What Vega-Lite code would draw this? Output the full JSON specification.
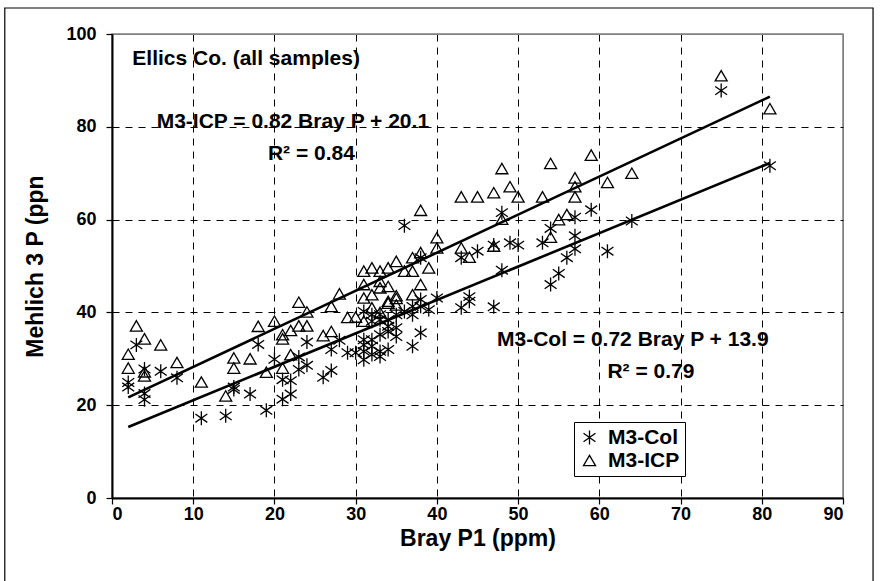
{
  "$schema": "https://vega.github.io/schema/vega-lite/v6.json",
  "width": 731,
  "height": 464,
  "autosize": {"type": "none"},
  "padding": {"left": 112, "top": 34, "right": 47, "bottom": 83},
  "background": "white",
  "config": {
    "font": "Liberation Sans",
    "view": {"stroke": "#808080", "strokeWidth": 1.5},
    "axis": {
      "labelFont": "Liberation Sans", "labelFontWeight": "bold", "labelFontSize": 18, "labelColor": "black",
      "titleFont": "Liberation Sans", "titleFontWeight": "bold", "titleFontSize": 23, "titleColor": "black",
      "domainColor": "black", "domainWidth": 2, "tickColor": "black", "tickSize": 6, "tickWidth": 1.2,
      "gridColor": "black", "gridDash": [7, 6], "gridWidth": 1, "gridOpacity": 1
    }
  },
  "datasets": {
    "pts": [
      {"s":"M3-Col","x":3,"y":33},{"s":"M3-Col","x":2,"y":24.9},{"s":"M3-Col","x":2,"y":23.9},{"s":"M3-Col","x":4,"y":27.8},{"s":"M3-Col","x":4,"y":22.5},{"s":"M3-Col","x":4,"y":21.2},{"s":"M3-Col","x":6,"y":27.3},{"s":"M3-Col","x":8,"y":25.9},{"s":"M3-Col","x":11,"y":17.2},{"s":"M3-Col","x":14,"y":17.7},{"s":"M3-Col","x":15,"y":23.9},{"s":"M3-Col","x":15,"y":23.4},{"s":"M3-Col","x":17,"y":22.4},{"s":"M3-Col","x":18,"y":33.1},{"s":"M3-Col","x":19,"y":18.9},{"s":"M3-Col","x":20,"y":29.9},{"s":"M3-Col","x":21,"y":25.5},{"s":"M3-Col","x":21,"y":21.3},{"s":"M3-Col","x":22,"y":25.3},{"s":"M3-Col","x":22,"y":22.4},{"s":"M3-Col","x":23,"y":30.4},{"s":"M3-Col","x":23,"y":27.7},{"s":"M3-Col","x":24,"y":33.6},{"s":"M3-Col","x":24,"y":28.6},{"s":"M3-Col","x":26,"y":26},{"s":"M3-Col","x":27,"y":32},{"s":"M3-Col","x":27,"y":27.5},{"s":"M3-Col","x":28,"y":34},{"s":"M3-Col","x":29,"y":31.3},
      {"s":"M3-Col","x":36,"y":58.7},{"s":"M3-Col","x":38,"y":51.8},{"s":"M3-Col","x":38,"y":42.8},{"s":"M3-Col","x":38,"y":41.3},{"s":"M3-Col","x":40,"y":43.1},{"s":"M3-Col","x":39,"y":40.6},{"s":"M3-Col","x":37,"y":41.3},{"s":"M3-Col","x":37,"y":39.5},{"s":"M3-Col","x":36,"y":40.2},{"s":"M3-Col","x":35,"y":39.5},{"s":"M3-Col","x":34,"y":38.4},{"s":"M3-Col","x":33,"y":39.5},{"s":"M3-Col","x":33,"y":38.4},{"s":"M3-Col","x":32,"y":39.5},{"s":"M3-Col","x":31,"y":40.2},{"s":"M3-Col","x":32,"y":38.1},{"s":"M3-Col","x":34,"y":37},{"s":"M3-Col","x":35,"y":36.7},{"s":"M3-Col","x":34,"y":35.9},{"s":"M3-Col","x":33,"y":35.2},{"s":"M3-Col","x":35,"y":34.8},{"s":"M3-Col","x":38,"y":35.6},{"s":"M3-Col","x":32,"y":34.1},{"s":"M3-Col","x":31,"y":34.1},{"s":"M3-Col","x":31,"y":33},{"s":"M3-Col","x":32,"y":32.7},{"s":"M3-Col","x":31,"y":31.6},{"s":"M3-Col","x":33,"y":31.6},{"s":"M3-Col","x":34,"y":32},{"s":"M3-Col","x":37,"y":32.7},{"s":"M3-Col","x":30,"y":31.3},{"s":"M3-Col","x":31,"y":29.8},{"s":"M3-Col","x":32,"y":30.9},{"s":"M3-Col","x":33,"y":30.5},
      {"s":"M3-Col","x":43,"y":51.8},{"s":"M3-Col","x":43,"y":41},{"s":"M3-Col","x":44,"y":42.4},{"s":"M3-Col","x":44,"y":43.4},{"s":"M3-Col","x":45,"y":53.2},{"s":"M3-Col","x":47,"y":54.5},{"s":"M3-Col","x":47,"y":41.2},{"s":"M3-Col","x":48,"y":61.5},{"s":"M3-Col","x":48,"y":49.1},{"s":"M3-Col","x":49,"y":55},{"s":"M3-Col","x":50,"y":54.5},{"s":"M3-Col","x":53,"y":55},{"s":"M3-Col","x":54,"y":58.1},{"s":"M3-Col","x":54,"y":46},{"s":"M3-Col","x":55,"y":48.4},{"s":"M3-Col","x":56,"y":51.8},{"s":"M3-Col","x":57,"y":53.7},{"s":"M3-Col","x":57,"y":56.5},{"s":"M3-Col","x":57,"y":60.5},{"s":"M3-Col","x":59,"y":62.1},{"s":"M3-Col","x":61,"y":53.2},{"s":"M3-Col","x":64,"y":59.7},{"s":"M3-Col","x":75,"y":87.8},{"s":"M3-Col","x":81,"y":71.6},
      {"s":"M3-ICP","x":3,"y":37.1},{"s":"M3-ICP","x":4,"y":34.3},{"s":"M3-ICP","x":6,"y":33},{"s":"M3-ICP","x":2,"y":31},{"s":"M3-ICP","x":2,"y":28},{"s":"M3-ICP","x":4,"y":26.3},{"s":"M3-ICP","x":4,"y":27.2},{"s":"M3-ICP","x":8,"y":29.2},{"s":"M3-ICP","x":11,"y":25},{"s":"M3-ICP","x":14,"y":22},{"s":"M3-ICP","x":15,"y":30.2},{"s":"M3-ICP","x":15,"y":28},{"s":"M3-ICP","x":17,"y":30},{"s":"M3-ICP","x":18,"y":37},{"s":"M3-ICP","x":20,"y":38.1},{"s":"M3-ICP","x":19,"y":27.1},{"s":"M3-ICP","x":21,"y":35.2},{"s":"M3-ICP","x":21,"y":34.3},{"s":"M3-ICP","x":21,"y":28},{"s":"M3-ICP","x":22,"y":36.1},{"s":"M3-ICP","x":22,"y":30.9},{"s":"M3-ICP","x":23,"y":42.2},{"s":"M3-ICP","x":24,"y":40.1},{"s":"M3-ICP","x":23,"y":37.1},{"s":"M3-ICP","x":24,"y":37.1},{"s":"M3-ICP","x":26,"y":35},{"s":"M3-ICP","x":27,"y":41.3},{"s":"M3-ICP","x":27,"y":35.9},{"s":"M3-ICP","x":28,"y":44},{"s":"M3-ICP","x":29,"y":38.9},
      {"s":"M3-ICP","x":30,"y":39},{"s":"M3-ICP","x":31,"y":38.1},{"s":"M3-ICP","x":32,"y":41},{"s":"M3-ICP","x":33,"y":40},{"s":"M3-ICP","x":34,"y":42},{"s":"M3-ICP","x":35,"y":41.6},{"s":"M3-ICP","x":31,"y":48.9},{"s":"M3-ICP","x":32,"y":49.6},{"s":"M3-ICP","x":33,"y":48.9},{"s":"M3-ICP","x":34,"y":49.6},{"s":"M3-ICP","x":36,"y":48.9},{"s":"M3-ICP","x":37,"y":48.9},{"s":"M3-ICP","x":35,"y":51},{"s":"M3-ICP","x":37,"y":51.8},{"s":"M3-ICP","x":38,"y":52.9},{"s":"M3-ICP","x":39,"y":49.6},{"s":"M3-ICP","x":40,"y":56.1},{"s":"M3-ICP","x":40,"y":53.9},{"s":"M3-ICP","x":38,"y":62},{"s":"M3-ICP","x":43,"y":53.9},{"s":"M3-ICP","x":44,"y":51.9},{"s":"M3-ICP","x":31,"y":46},{"s":"M3-ICP","x":33,"y":45.3},{"s":"M3-ICP","x":34,"y":45.6},{"s":"M3-ICP","x":33,"y":46.7},{"s":"M3-ICP","x":32,"y":43.8},{"s":"M3-ICP","x":31,"y":43.1},{"s":"M3-ICP","x":35,"y":43.6},{"s":"M3-ICP","x":35,"y":43},{"s":"M3-ICP","x":38,"y":46},{"s":"M3-ICP","x":37,"y":43.8},{"s":"M3-ICP","x":34,"y":42.4},
      {"s":"M3-ICP","x":43,"y":64.9},{"s":"M3-ICP","x":45,"y":64.9},{"s":"M3-ICP","x":47,"y":65.8},{"s":"M3-ICP","x":49,"y":67.1},{"s":"M3-ICP","x":50,"y":64.9},{"s":"M3-ICP","x":48,"y":71},{"s":"M3-ICP","x":54,"y":72.1},{"s":"M3-ICP","x":59,"y":73.9},{"s":"M3-ICP","x":53,"y":64.9},{"s":"M3-ICP","x":57,"y":69},{"s":"M3-ICP","x":57,"y":67.1},{"s":"M3-ICP","x":57,"y":64.9},{"s":"M3-ICP","x":56,"y":61.1},{"s":"M3-ICP","x":55,"y":60},{"s":"M3-ICP","x":48,"y":60.1},{"s":"M3-ICP","x":54,"y":56.2},{"s":"M3-ICP","x":47,"y":54.3},{"s":"M3-ICP","x":61,"y":68},{"s":"M3-ICP","x":64,"y":70},{"s":"M3-ICP","x":75,"y":91},{"s":"M3-ICP","x":81,"y":83.9}
    ],
    "fits": [
      {"fit":"ICP","x":2,"y":21.7},{"fit":"ICP","x":81,"y":86.5},
      {"fit":"Col","x":2,"y":15.3},{"fit":"Col","x":81,"y":72.2}
    ],
    "notes": [
      {"t":"Ellics Co. (all samples)","x":2.5,"y":94.6},
      {"t":"M3-ICP = 0.82 Bray P  +  20.1","x":5.5,"y":81},
      {"t":"R² = 0.84","x":19.2,"y":74.1},
      {"t":"M3-Col = 0.72 Bray P  +  13.9","x":47.4,"y":34.1},
      {"t":"R² = 0.79","x":61,"y":27.2}
    ]
  },
  "layer": [
    {
      "data": {"name": "fits"},
      "mark": {"type": "line", "color": "black", "strokeWidth": 2.6},
      "encoding": {
        "x": {"field": "x", "type": "quantitative", "scale": {"domain": [0, 90]},
          "axis": {"title": "Bray P1 (ppm)", "values": [0,10,20,30,40,50,60,70,80,90], "labelPadding": 1, "titlePadding": 4,
            "gridColor": {"condition": {"test": "datum.value === 90", "value": "#808080"}, "value": "black"},
            "gridDash": {"condition": {"test": "datum.value === 90", "value": []}, "value": [7, 6]}}},
        "y": {"field": "y", "type": "quantitative", "scale": {"domain": [0, 100]},
          "axis": {"title": "Mehlich 3 P (ppn", "values": [0,20,40,60,80,100], "labelPadding": 10, "titlePadding": 18,
            "gridColor": {"condition": {"test": "datum.value === 100", "value": "#808080"}, "value": "black"},
            "gridDash": {"condition": {"test": "datum.value === 100", "value": []}, "value": [7, 6]}}},
        "detail": {"field": "fit"}
      }
    },
    {
      "data": {"name": "pts"},
      "mark": {"type": "point", "filled": false, "stroke": "black", "strokeWidth": 1.3, "opacity": 1},
      "encoding": {
        "x": {"field": "x", "type": "quantitative"},
        "y": {"field": "y", "type": "quantitative"},
        "shape": {"field": "s", "type": "nominal",
          "scale": {"domain": ["M3-Col", "M3-ICP"], "range": ["M0,-1L0,1M-0.85,-0.6L0.85,0.6M-0.85,0.6L0.85,-0.6", "triangle-up"]},
          "legend": {"title": null, "orient": "none", "legendX": 462, "legendY": 388, "strokeColor": "black", "fillColor": "white",
            "padding": 5, "labelFont": "Liberation Sans", "labelFontWeight": "bold", "labelFontSize": 21, "labelColor": "black",
            "symbolStrokeColor": "black", "symbolStrokeWidth": 1.3, "symbolFillColor": "transparent", "rowPadding": 1, "labelOffset": 8}},
        "size": {"field": "s", "type": "nominal", "scale": {"domain": ["M3-Col", "M3-ICP"], "range": [196, 144]}}
      }
    },
    {
      "data": {"name": "notes"},
      "mark": {"type": "text", "align": "left", "baseline": "middle", "font": "Liberation Sans", "fontWeight": "bold", "fontSize": 21, "color": "black"},
      "encoding": {"x": {"field": "x", "type": "quantitative"}, "y": {"field": "y", "type": "quantitative"}, "text": {"field": "t"}}
    },
    {
      "data": {"values": [{}]},
      "mark": {"type": "rect", "filled": false, "stroke": "black", "strokeWidth": 1.2, "clip": false},
      "encoding": {"x": {"datum": -13.2}, "x2": {"datum": 93.7}, "y": {"datum": 105.6}, "y2": {"datum": -22}}
    }
  ]
}
